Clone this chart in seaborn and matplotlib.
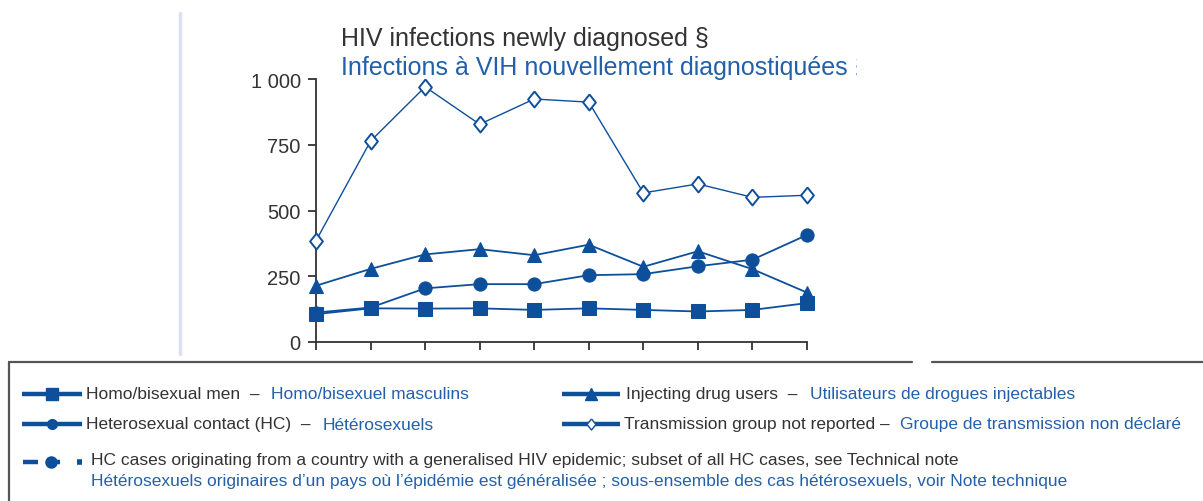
import matplotlib
matplotlib.use("Agg")
import matplotlib.pyplot as plt
import seaborn as sns
import pandas as pd
from matplotlib.lines import Line2D
from matplotlib.transforms import Bbox, TransformedBbox

# ---------------- data ----------------
periods = [1, 2, 3, 4, 5, 6, 7, 8, 9, 10]
msm = [106, 128, 127, 128, 122, 128, 122, 116, 122, 148]
hc = [112, 131, 204, 220, 220, 254, 258, 288, 313, 407]
idu = [214, 278, 333, 353, 330, 370, 286, 345, 277, 188]
not_reported = [385, 764, 970, 828, 924, 912, 567, 601, 550, 558]

yticks = [0, 250, 500, 750, 1000]
ytick_labels = ["0", "250", "500", "750", "1 000"]

title_en = "HIV infections newly diagnosed §"
title_fr = "Infections à VIH nouvellement diagnostiquées §"

# ---------------- style ----------------
sns.set_style("white")
plt.rcParams["font.family"] = ["Liberation Sans", "DejaVu Sans"]

BLUE = "#0D4F9B"
TXT_BLUE = "#2360AA"
TXT = "#333333"

W, H = 1203, 502
fig = plt.figure(figsize=(W / 100, H / 100), dpi=100)
fig.patch.set_facecolor("white")

def fx(px):
    return px / W

def fy(py):
    return 1 - py / H

ax = fig.add_axes([fx(316), fy(343), fx(807) - fx(316), fy(80) - fy(343)])

DIAMOND = [(0, 1), (0.8, 0), (0, -1), (-0.8, 0), (0, 1)]

series = [
    (msm, "s", 9.5),
    (hc, "o", 9.5),
    (idu, "^", 10),
]
for vals, mk, ms in series:
    sns.lineplot(x=periods, y=vals, ax=ax, color=BLUE, lw=1.3, marker=mk,
                 markersize=ms, markeredgecolor=BLUE, markerfacecolor=BLUE,
                 clip_on=False, zorder=3)
sns.lineplot(x=periods, y=not_reported, ax=ax, color=BLUE, lw=1.0, marker=DIAMOND,
             markersize=11.5, markeredgecolor=BLUE, markerfacecolor="white",
             markeredgewidth=1.4, clip_on=False, zorder=3)

ax.set_xlim(periods[0], periods[-1])
ax.set_ylim(0, 1000)
ax.set_xticks(periods)
ax.set_xticklabels([])
ax.set_yticks(yticks)
ax.set_yticklabels(ytick_labels)
ax.set_xlabel("")
ax.set_ylabel("")
for s in ["top", "right"]:
    ax.spines[s].set_visible(False)
for s in ["left", "bottom"]:
    ax.spines[s].set_color("#333333")
    ax.spines[s].set_linewidth(1.3)
ax.tick_params(axis="both", direction="out", length=6, width=1.3, color="#333333",
               bottom=True, left=True)
ax.tick_params(axis="y", labelsize=14.5, labelcolor=TXT, pad=5)
ax.patch.set_alpha(0)

# ---------------- titles ----------------
fig.text(fx(341), fy(46), title_en, fontsize=18, color=TXT, va="baseline", ha="left")
t2 = fig.text(fx(341), fy(75), title_fr, fontsize=18, color=TXT_BLUE, va="baseline", ha="left")
t2.set_clip_box(TransformedBbox(Bbox([[0, 0], [fx(857), 1]]), fig.transFigure))
t2.set_clip_on(True)

# ---------------- decorations ----------------
fig.add_artist(Line2D([fx(180), fx(180)], [fy(14), fy(355)], color="#DCE0F2", lw=2.5))
# legend frame
fig.add_artist(Line2D([fx(9), fx(9)], [fy(363), fy(505)], color="#555555", lw=1.6))
fig.add_artist(Line2D([fx(9), fx(912)], [fy(363), fy(363)], color="#555555", lw=1.6))
fig.add_artist(Line2D([fx(932), fx(1205)], [fy(363), fy(363)], color="#555555", lw=1.6))

# ---------------- legend ----------------
FS = 12.5

def handle(x0, x1, y, marker, ms, face=BLUE):
    fig.add_artist(Line2D([fx(x0), fx(x1)], [fy(y), fy(y)], color=BLUE, lw=3.2,
                          solid_capstyle="butt"))
    xm = (x0 + x1) / 2
    fig.add_artist(Line2D([fx(xm)], [fy(y)], marker=marker, markersize=ms, color=BLUE,
                          markerfacecolor=face, markeredgecolor=BLUE, lw=0))

handle(22, 82, 395, "s", 9)
handle(22, 82, 425, "o", 7)
handle(562, 620, 395, "^", 8)
handle(562, 620, 425, DIAMOND, 8, face="white")

# dashed handle row 3
fig.add_artist(Line2D([fx(23), fx(38)], [fy(463), fy(463)], color=BLUE, lw=3.2, solid_capstyle="butt"))
fig.add_artist(Line2D([fx(50), fx(60)], [fy(463), fy(463)], color=BLUE, lw=3.2, solid_capstyle="butt"))
fig.add_artist(Line2D([fx(51)], [fy(463)], marker="o", markersize=8, color=BLUE, lw=0))
fig.add_artist(Line2D([fx(77), fx(82)], [fy(463), fy(463)], color=BLUE, lw=4, solid_capstyle="butt"))

def ltext(x, y, s, color):
    fig.text(fx(x), fy(y), s, fontsize=FS, color=color, va="center", ha="left")

ltext(86, 395, "Homo/bisexual men  –", TXT)
ltext(271, 395, "Homo/bisexuel masculins", TXT_BLUE)
ltext(86, 425, "Heterosexual contact (HC)  –", TXT)
ltext(323, 425, "Hétérosexuels", TXT_BLUE)
ltext(626, 395, "Injecting drug users  –", TXT)
ltext(810, 395, "Utilisateurs de drogues injectables", TXT_BLUE)
ltext(624, 425, "Transmission group not reported –", TXT)
ltext(900, 425, "Groupe de transmission non déclaré", TXT_BLUE)
ltext(91, 461, "HC cases originating from a country with a generalised HIV epidemic; subset of all HC cases, see Technical note", TXT)
ltext(91, 482, "Hétérosexuels originaires d’un pays où l’épidémie est généralisée ; sous-ensemble des cas hétérosexuels, voir Note technique", TXT_BLUE)

fig.savefig("out.png", dpi=100, facecolor="white")
